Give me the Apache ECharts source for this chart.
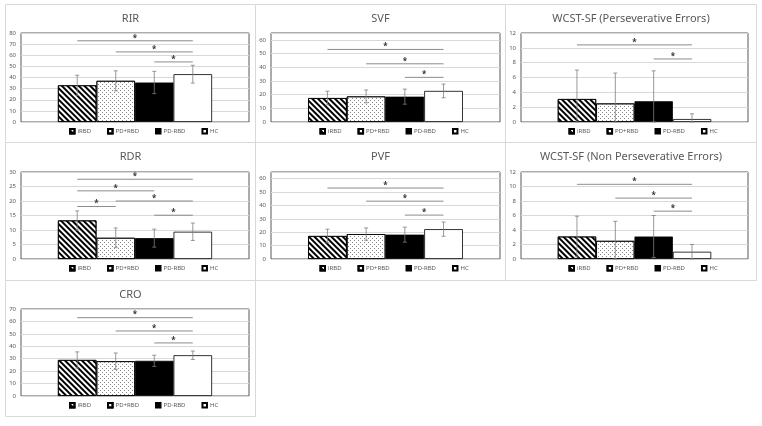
<!DOCTYPE html>
<html><head><meta charset="utf-8">
<script src="https://cdn.jsdelivr.net/npm/echarts@6/dist/echarts.min.js"></script>
<style>html,body{margin:0;padding:0;background:#fff}#c{width:762px;height:426px}</style>
</head><body><div id="c"></div>
<script>
const groups = ['iRBD', 'PD+RBD', 'PD-RBD', 'HC'];
const titles = ['RIR', 'SVF', 'WCST-SF (Perseverative Errors)', 'RDR', 'PVF', 'WCST-SF (Non Perseverative Errors)', 'CRO'];

const rirMean = [33, 37, 35.5, 43];     const rirSd = [9, 9, 10, 8];
const svfMean = [17.5, 18.7, 18.5, 22.7]; const svfSd = [5, 4.7, 5.5, 5];
const wpeMean = [3.1, 2.5, 2.8, 0.4];  const wpeSd = [3.9, 4.1, 4.1, 0.7];
const rdrMean = [13.3, 7.3, 7.2, 9.4]; const rdrSd = [3.3, 3.4, 3.1, 3];
const pvfMean = [17.2, 18.6, 18.2, 22.3]; const pvfSd = [5.1, 4.6, 5.6, 5.3];
const wnpMean = [3.1, 2.5, 3.1, 1.0];  const wnpSd = [2.8, 2.7, 2.9, 1.0];
const croMean = [29, 28, 28.3, 32.8];  const croSd = [6.5, 6.6, 4.5, 3.4];

// significance brackets: [from group, to group, height]
const rirSig = [[0, 3, 73], [1, 3, 63], [2, 3, 54]];
const svfSig = [[0, 3, 53], [1, 3, 42.5], [2, 3, 32.6]];
const wpeSig = [[0, 3, 10.4], [2, 3, 8.5]];
const rdrSig = [[0, 3, 27.5], [0, 2, 23.5], [1, 3, 20], [0, 1, 18.1], [2, 3, 15.1]];
const pvfSig = [[0, 3, 53], [1, 3, 43.2], [2, 3, 32.8]];
const wnpSig = [[0, 3, 10.3], [1, 3, 8.4], [2, 3, 6.6]];
const croSig = [[0, 3, 63], [1, 3, 52.3], [2, 3, 42.7]];

const yMax = [80, 65, 12, 30, 65, 12, 70];
const yStep = [10, 10, 2, 5, 10, 2, 10];

const means = [rirMean, svfMean, wpeMean, rdrMean, pvfMean, wnpMean, croMean];
const sds = [rirSd, svfSd, wpeSd, rdrSd, pvfSd, wnpSd, croSd];
const sigs = [rirSig, svfSig, wpeSig, rdrSig, pvfSig, wnpSig, croSig];

// layout
const colLeft = [21, 271, 521], colW = [228, 229, 227];
const rowTop = [33, 172, 309], rowH = [89, 87, 87];
const panelX = [5.5, 255.5, 505.5], panelW = [250, 250, 251];
const panelY = [4.5, 142.5, 280.5], panelH = [138, 138, 136];
const BW = 0.169;

const FONT = 'Noto Sans';
const styles = [
  {color: '#fff', decal: {symbol: 'rect', symbolSize: 1, color: '#000', dashArrayX: [1, 0], dashArrayY: [2, 1.6], rotation: Math.PI / 4}},
  {color: '#fff', decal: {symbol: 'rect', symbolSize: 1, color: '#8a8a8a', dashArrayX: [[1, 3], [0, 2, 1, 1]], dashArrayY: [1, 1], rotation: 0}},
  {color: '#000'},
  {color: '#fff'}
];

const grid = [], xAxis = [], yAxis = [], series = [], legend = [], graphic = [];
for (let p = 0; p < 7; p++) {
  const c = p % 3, r = Math.floor(p / 3);
  graphic.push({type: 'rect', shape: {x: panelX[c], y: panelY[r], width: panelW[c], height: panelH[r]},
    style: {fill: null, stroke: '#d9d9d9', lineWidth: 1}, silent: true, z: -1});
  graphic.push({type: 'text', x: panelX[c] + panelW[c] / 2, y: panelY[r] + 14.5,
    style: {text: titles[p], fill: '#595959', font: '11px "' + FONT + '"', textAlign: 'center', textVerticalAlign: 'middle'}});
  grid.push({left: colLeft[c], top: rowTop[r], width: colW[c], height: rowH[r], show: true,
    borderColor: '#595959', borderWidth: 1, backgroundColor: '#fff'});
  xAxis.push({type: 'category', gridIndex: p, data: ['x'], axisLabel: {show: false}, axisTick: {show: false},
    axisLine: {show: false}});
  const st = yStep[p];
  yAxis.push({type: 'value', gridIndex: p, min: 0, max: yMax[p], interval: st,
    axisLine: {show: false}, axisTick: {show: false},
    splitLine: {lineStyle: {color: '#d9d9d9', width: 1}},
    axisLabel: {fontSize: 6, color: '#595959', fontFamily: FONT, margin: 5,
      formatter: v => (Math.abs(v / st - Math.round(v / st)) < 1e-6 ? String(v) : '')}});
  for (let g = 0; g < 4; g++) {
    series.push({type: 'bar', name: groups[g], xAxisIndex: p, yAxisIndex: p, data: [means[p][g]],
      barWidth: (BW * 100) + '%', barGap: '0%', silent: true,
      itemStyle: Object.assign({borderColor: '#000', borderWidth: 0.8}, styles[g])});
  }
  // error bars
  series.push({type: 'custom', name: 'err' + p, xAxisIndex: p, yAxisIndex: p, silent: true, z: 5,
    data: means[p].map((m, g) => [0, m, sds[p][g], g]),
    renderItem: function (params, api) {
      const m = api.value(1), s = api.value(2), g = api.value(3);
      const band = api.size([1, 0])[0];
      const cx = api.coord([0, m])[0] + (g - 1.5) * BW * band;
      const yt = api.coord([0, m + s])[1], yb = api.coord([0, Math.max(0, m - s)])[1];
      const st = {stroke: '#7f7f7f', lineWidth: 0.8};
      return {type: 'group', children: [
        {type: 'line', shape: {x1: cx, y1: yt, x2: cx, y2: yb}, style: st},
        {type: 'line', shape: {x1: cx - 2, y1: yt, x2: cx + 2, y2: yt}, style: st},
        {type: 'line', shape: {x1: cx - 2, y1: yb, x2: cx + 2, y2: yb}, style: st}
      ]};
    }});
  // significance lines
  series.push({type: 'custom', name: 'sig' + p, xAxisIndex: p, yAxisIndex: p, silent: true, z: 6,
    data: sigs[p].map(s => [0, s[2], s[0], s[1]]),
    renderItem: function (params, api) {
      const y = api.value(1), a = api.value(2), b = api.value(3);
      const band = api.size([1, 0])[0];
      const pt = api.coord([0, y]);
      const x1 = pt[0] + (a - 1.5) * BW * band, x2 = pt[0] + (b - 1.5) * BW * band;
      return {type: 'group', children: [
        {type: 'line', shape: {x1: x1, y1: pt[1], x2: x2, y2: pt[1]}, style: {stroke: '#7f7f7f', lineWidth: 0.9}},
        {type: 'text', x: (x1 + x2) / 2, y: pt[1] - 2.5,
          style: {text: '*', fill: '#333', font: 'bold 8px "' + FONT + '"', textAlign: 'center', textVerticalAlign: 'middle'}}
      ]};
    }});
  legend.push({data: groups, left: colLeft[c] + colW[c] / 2 - 66, top: rowTop[r] + rowH[r] + 6,
    icon: 'rect', itemWidth: 4.5, itemHeight: 4.5, itemGap: 16, padding: 0, selectedMode: false,
    textStyle: {fontSize: 6, color: '#595959', fontFamily: FONT, padding: [0, 0, 0, -2]}});
}

const chart = echarts.init(document.getElementById('c'), null, {renderer: 'canvas'});
chart.setOption({animation: false, backgroundColor: '#fff', grid, xAxis, yAxis, series, legend, graphic});
</script></body></html>
